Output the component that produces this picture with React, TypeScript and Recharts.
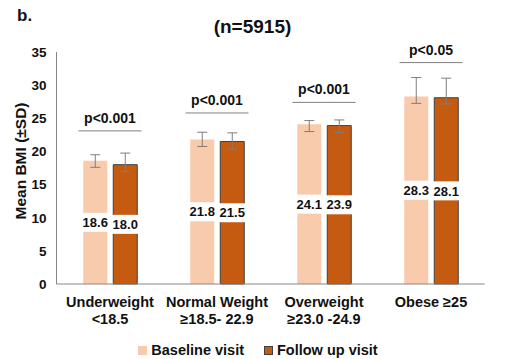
import {
  BarChart,
  Bar,
  XAxis,
  YAxis,
  ErrorBar,
  LabelList,
  ReferenceLine,
  Legend,
} from 'recharts';

const groupTop = ['Underweight', 'Normal Weight', 'Overweight', 'Obese ≥25'];
const groupBottom = ['<18.5', '≥18.5- 22.9', '≥23.0 -24.9', ''];
const baseline = [18.6, 21.8, 24.1, 28.3];
const followUp = [18.0, 21.5, 23.9, 28.1];
// asymmetric SD whiskers: [below, above]
const baselineSd = [[1.0, 0.9], [1.05, 1.1], [1.1, 0.55], [1.05, 2.85]];
const followUpSd = [[1.0, 1.75], [1.15, 1.3], [1.05, 0.85], [0.95, 2.95]];
const pLabels = ['p<0.001', 'p<0.001', 'p<0.001', 'p<0.05'];
const pLineY = [23.1, 25.8, 27.4, 33.4];
const yTicks = [0, 5, 10, 15, 20, 25, 30, 35];

const BASE_COLOR = '#F8CBAD';
const FOLLOW_COLOR = '#C55A11';
const AXIS_COLOR = '#868686';
const TEXT = '#111';
const FONT = 'Liberation Sans, Arial, sans-serif';

const data = groupTop.map((name, i) => ({
  name,
  baseline: baseline[i],
  followUp: followUp[i],
  baseSd: baselineSd[i],
  followSd: followUpSd[i],
}));

function GroupTick(props: any) {
  const { x, y, payload } = props;
  const i = groupTop.indexOf(payload.value);
  return (
    <text
      x={x}
      y={y}
      textAnchor="middle"
      fill={TEXT}
      fontSize={14.5}
      fontWeight={700}
      fontFamily={FONT}
    >
      <tspan x={x} dy={23}>{groupTop[i]}</tspan>
      <tspan x={x} dy={16.5}>{groupBottom[i]}</tspan>
    </text>
  );
}

function ValueBox(props: any) {
  const vb = props.viewBox ?? props;
  const x = vb.x ?? props.x;
  const y = vb.y ?? props.y;
  const width = vb.width ?? props.width;
  const height = vb.height ?? props.height;
  const cx = x + width / 2;
  const cy = y + height / 2;
  return (
    <g>
      <rect x={x - 1.5} y={cy - 9.5} width={width + 3} height={19} fill="#fff" />
      <text
        x={cx}
        y={cy + 4.7}
        textAnchor="middle"
        fill={TEXT}
        fontSize={13}
        fontWeight={700}
        fontFamily={FONT}
      >
        {Number(props.value).toFixed(1)}
      </text>
    </g>
  );
}

// the reference line is a point at the group centre; widen it into the bracket
function PBracket(props: any) {
  const { x1, y1 } = props;
  return <line x1={x1 - 31.5} x2={x1 + 31.5} y1={y1} y2={y1} stroke="#7f7f7f" strokeWidth={1} />;
}

function VisitLegend() {
  const items = [
    { label: 'Baseline visit', color: BASE_COLOR, border: 'none' },
    { label: 'Follow up visit', color: FOLLOW_COLOR, border: '1px solid #404040' },
  ];
  return (
    <div
      style={{
        display: 'flex',
        justifyContent: 'center',
        gap: 20,
        fontFamily: FONT,
        fontWeight: 700,
        fontSize: 14.5,
        color: TEXT,
        lineHeight: '18px',
      }}
    >
      {items.map((item) => (
        <div key={item.label} style={{ display: 'flex', alignItems: 'center', gap: 4 }}>
          <span
            style={{
              display: 'inline-block',
              width: 9,
              height: 9,
              boxSizing: 'border-box',
              background: item.color,
              border: item.border,
            }}
          />
          {item.label}
        </div>
      ))}
    </div>
  );
}

export default function App() {
  return (
    <div style={{ position: 'absolute', left: 0, top: 0, width: 516, height: 359, background: '#fff' }}>
      <BarChart
        width={516}
        height={359}
        data={data}
        margin={{ top: 52, right: 31.5, bottom: 35, left: 20.5 }}
        barCategoryGap="25%"
        barGap={6}
      >
        <text x={17} y={20.5} fontSize={17} fontWeight={700} fill={TEXT} fontFamily={FONT}>
          b.
        </text>
        <text
          x={252.5}
          y={33}
          textAnchor="middle"
          fontSize={19}
          fontWeight={700}
          fill={TEXT}
          fontFamily={FONT}
        >
          (n=5915)
        </text>
        <text
          x={25.5}
          y={161}
          transform="rotate(-90 25.5 161)"
          textAnchor="middle"
          fontSize={15.5}
          fontWeight={700}
          fill={TEXT}
          fontFamily={FONT}
        >
          Mean BMI (±SD)
        </text>
        <XAxis
          dataKey="name"
          height={40}
          tickLine={false}
          tickSize={0}
          tickMargin={0}
          stroke={AXIS_COLOR}
          interval={0}
          tick={<GroupTick />}
        />
        <YAxis
          width={36}
          domain={[0, 35]}
          ticks={yTicks}
          tickLine={false}
          tickSize={0}
          tickMargin={10}
          stroke={AXIS_COLOR}
          tick={{ fill: TEXT, fontSize: 13.5, fontWeight: 700, fontFamily: FONT }}
        />
        <Bar dataKey="baseline" fill={BASE_COLOR} isAnimationActive={false}>
          <ErrorBar dataKey="baseSd" width={5} stroke="#7f7f7f" strokeWidth={1} direction="y" />
          <LabelList dataKey="baseline" position="center" content={ValueBox} />
        </Bar>
        <Bar
          dataKey="followUp"
          fill={FOLLOW_COLOR}
          stroke="#404040"
          strokeWidth={1}
          isAnimationActive={false}
        >
          <ErrorBar dataKey="followSd" width={5} stroke="#7f7f7f" strokeWidth={1} direction="y" />
          <LabelList dataKey="followUp" position="center" content={ValueBox} />
        </Bar>
        {pLabels.map((label, i) => (
          <ReferenceLine
            key={i}
            segment={[
              { x: groupTop[i], y: pLineY[i] },
              { x: groupTop[i], y: pLineY[i] },
            ]}
            shape={PBracket}
            label={{
              value: label,
              position: 'top',
              offset: 8,
              fill: TEXT,
              fontSize: 14,
              fontWeight: 700,
              fontFamily: FONT,
            }}
          />
        ))}
        <Legend
          layout="horizontal"
          verticalAlign="middle"
          align="center"
          wrapperStyle={{ top: 341, left: 0, width: 516 }}
          content={<VisitLegend />}
        />
      </BarChart>
    </div>
  );
}
